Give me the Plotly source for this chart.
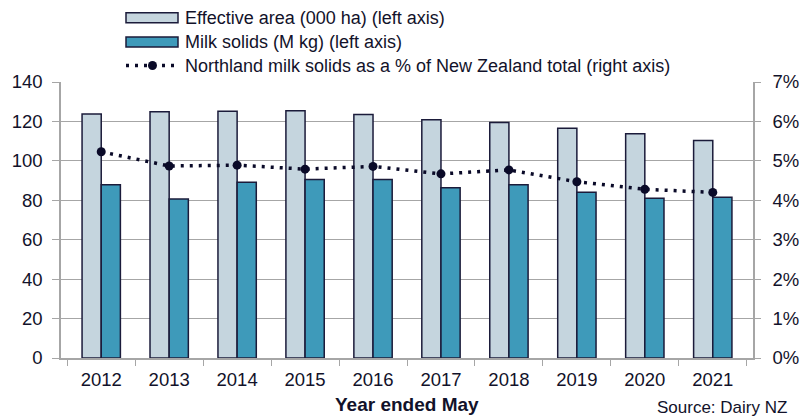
import plotly.graph_objects as go

# Dairy statistics for Northland, year ended May
years = ["2012", "2013", "2014", "2015", "2016", "2017", "2018", "2019", "2020", "2021"]
effective_area = [123.8, 124.9, 125.1, 125.4, 123.5, 120.9, 119.5, 116.6, 113.7, 110.3]
milk_solids = [87.9, 80.7, 89.2, 90.5, 90.5, 86.3, 87.9, 84.1, 81.0, 81.5]
share_of_nz = [0.0523, 0.0487, 0.0489, 0.0479, 0.0486, 0.0467, 0.0477, 0.0447, 0.0428, 0.0420]

W, H = 800, 419
L, R, T, B = 61, 47, 82.4, 61.4
FONT = "Liberation Sans, Arial, sans-serif"
TXT = "#12122a"
GRID = "#a6a6a6"
OUTLINE = "#1b1b3a"
LIGHT = "#c5d5de"
TEAL = "#3e9aba"
DOTS = "#0a0a28"

def px(x):
    return (x - L) / (W - L - R)

def py(y):
    return (H - B - y) / (H - T - B)

fig = go.Figure()
fig.add_trace(go.Bar(x=years, y=effective_area, name="Effective area (000 ha) (left axis)",
                     marker=dict(color=LIGHT, line=dict(color=OUTLINE, width=1.5))))
fig.add_trace(go.Bar(x=years, y=milk_solids, name="Milk solids (M kg) (left axis)",
                     marker=dict(color=TEAL, line=dict(color=OUTLINE, width=1.5))))
fig.add_trace(go.Scatter(x=years, y=share_of_nz, yaxis="y2", mode="lines+markers",
                         name="Northland milk solids as a % of New Zealand total (right axis)",
                         line=dict(color=DOTS, width=3.5, dash="3px,6px"),
                         marker=dict(color=DOTS, size=9)))

# Hand-drawn legend block above the plot
shapes = []
annotations = []
legend_rows = [(18.3, "bar", LIGHT, "Effective area (000 ha) (left axis)"),
               (42.5, "bar", TEAL, "Milk solids (M kg) (left axis)"),
               (66.0, "line", DOTS, "Northland milk solids as a % of New Zealand total (right axis)")]
for yc, kind, col, label in legend_rows:
    if kind == "bar":
        shapes.append(dict(type="rect", xref="paper", yref="paper",
                           x0=px(126), x1=px(178), y0=py(yc - 5), y1=py(yc + 5),
                           fillcolor=col, line=dict(color=OUTLINE, width=1.5)))
    else:
        shapes.append(dict(type="line", xref="paper", yref="paper",
                           x0=px(126), x1=px(178), y0=py(yc), y1=py(yc),
                           line=dict(color=col, width=3.5, dash="3px,6px")))
        shapes.append(dict(type="circle", xref="paper", yref="paper",
                           x0=px(148), x1=px(157), y0=py(yc - 4.5), y1=py(yc + 4.5),
                           fillcolor=col, line=dict(color=col, width=0)))
    annotations.append(dict(text=label, xref="paper", yref="paper", x=px(183), y=py(yc),
                            xanchor="left", yanchor="middle", showarrow=False,
                            font=dict(family=FONT, size=18, color=TXT)))

# Axis title and source note
annotations.append(dict(text="<b>Year ended May</b>", xref="paper", yref="paper",
                        x=0.5, y=py(404), xanchor="center", yanchor="middle",
                        showarrow=False, font=dict(family=FONT, size=19, color=TXT)))
annotations.append(dict(text="Source: Dairy NZ", xref="paper", yref="paper",
                        x=px(789), y=py(406.5), xanchor="right", yanchor="middle",
                        showarrow=False, font=dict(family=FONT, size=17, color=TXT)))

fig.update_layout(
    width=W, height=H,
    margin=dict(l=L, r=R, t=T, b=B),
    paper_bgcolor="white", plot_bgcolor="white",
    showlegend=False,
    barmode="group", bargap=0.436, bargroupgap=0,
    font=dict(family=FONT, size=18, color=TXT),
    shapes=shapes, annotations=annotations,
    xaxis=dict(type="category", tickson="boundaries", ticks="outside", ticklen=6,
               tickcolor=GRID, showline=True, linecolor=GRID, linewidth=1.5,
               showgrid=False, tickfont=dict(size=18.5), ticklabelstandoff=4,
               automargin=False),
    yaxis=dict(range=[0, 140], dtick=20, ticks="outside", ticklen=7, tickcolor=GRID,
               showline=True, linecolor=GRID, linewidth=1.5, gridcolor=GRID, gridwidth=1.2,
               zeroline=False, tickfont=dict(size=18.5), ticklabelstandoff=6,
               automargin=False),
    yaxis2=dict(range=[0, 0.07], dtick=0.01, tickformat=".0%", overlaying="y", side="right",
                ticks="outside", ticklen=6, tickcolor=GRID, showline=True, linecolor=GRID,
                linewidth=1.5, showgrid=False, zeroline=False, tickfont=dict(size=18.5),
                ticklabelstandoff=8, automargin=False),
)

fig.write_html("out.html")
